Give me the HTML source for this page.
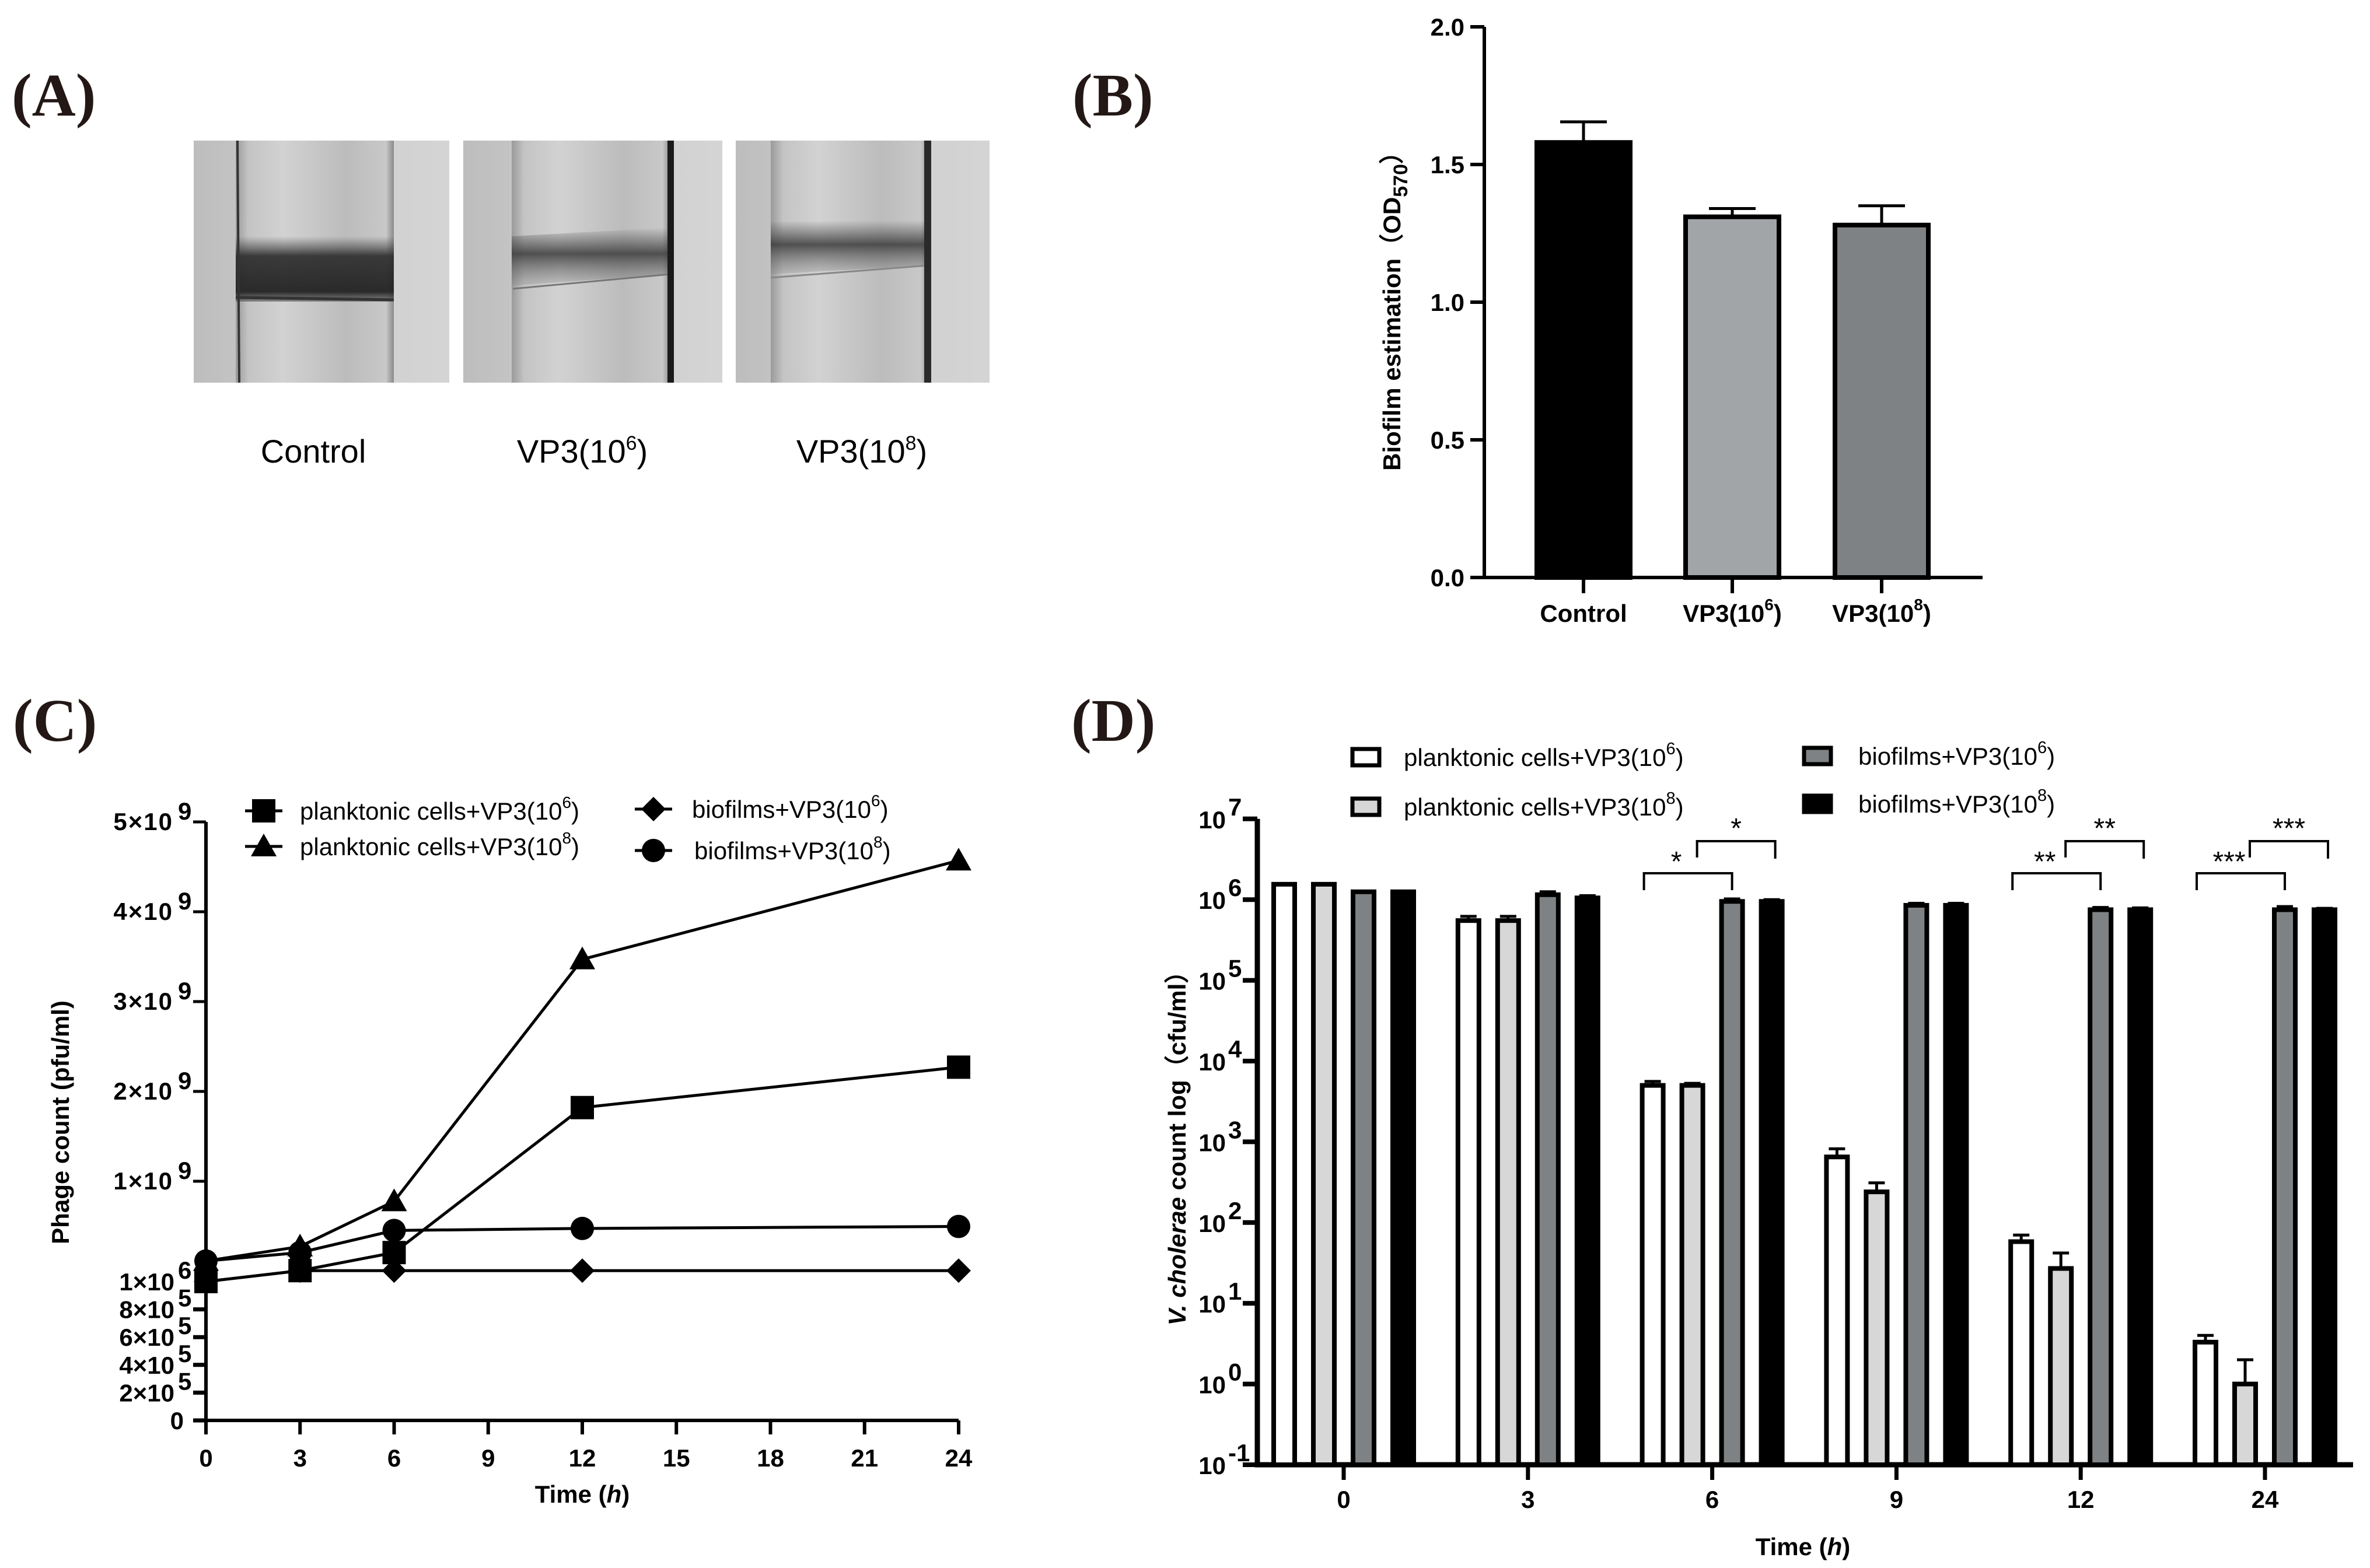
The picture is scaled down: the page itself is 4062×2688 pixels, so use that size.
<!DOCTYPE html>
<html><head><meta charset="utf-8"><style>
html,body{margin:0;padding:0;background:#fff;}
svg{display:block;}
text{font-family:"Liberation Sans",sans-serif;}
.lbl{font-family:"Liberation Serif",serif;font-weight:bold;font-size:104px;fill:#231815;}
.tk{font-weight:bold;font-size:42px;fill:#000;}
.lg{font-size:42px;fill:#000;}
</style></head><body>
<svg id="fig" width="4062" height="2688" viewBox="0 0 4062 2688" xmlns="http://www.w3.org/2000/svg">
<defs>
<linearGradient id="bg1" x1="0" x2="1"><stop offset="0" stop-color="#bdbdbd"/><stop offset="0.5" stop-color="#cfcfcf"/><stop offset="1" stop-color="#d4d4d4"/></linearGradient>
<linearGradient id="tube" x1="0" x2="1"><stop offset="0" stop-color="#9a9a9a"/><stop offset="0.08" stop-color="#c4c4c4"/><stop offset="0.3" stop-color="#d2d2d2"/><stop offset="0.7" stop-color="#bcbcbc"/><stop offset="0.95" stop-color="#c8c8c8"/><stop offset="1" stop-color="#8a8a8a"/></linearGradient>
<linearGradient id="band1" x1="0" x2="0" y1="0" y2="1"><stop offset="0" stop-color="#444" stop-opacity="0"/><stop offset="0.3" stop-color="#2a2a2a" stop-opacity="0.9"/><stop offset="0.85" stop-color="#222" stop-opacity="0.95"/><stop offset="1" stop-color="#555" stop-opacity="0.6"/></linearGradient>
<linearGradient id="band2" x1="0" x2="0" y1="0" y2="1"><stop offset="0" stop-color="#444" stop-opacity="0"/><stop offset="0.45" stop-color="#3a3a3a" stop-opacity="0.85"/><stop offset="1" stop-color="#777" stop-opacity="0.2"/></linearGradient>
</defs>

<!-- Panel A -->
<text class="lbl" x="20" y="198">(A)</text>
<g>
<rect x="332" y="241" width="438" height="415" fill="url(#bg1)"/>
<rect x="404" y="241" width="271" height="415" fill="url(#tube)"/>
<rect x="404" y="405" width="271" height="112" fill="url(#band1)"/>
<line x1="404" y1="510" x2="675" y2="514" stroke="#333" stroke-width="5"/>
<line x1="407" y1="241" x2="410" y2="656" stroke="#333" stroke-width="4"/>
</g>
<g>
<rect x="794" y="241" width="444" height="415" fill="url(#bg1)"/>
<rect x="877" y="241" width="272" height="415" fill="url(#tube)"/>
<polygon points="877,405 1149,390 1149,470 877,490" fill="url(#band2)"/>
<line x1="879" y1="495" x2="1149" y2="470" stroke="#777" stroke-width="3"/>
<rect x="1144" y="241" width="11" height="415" fill="#1a1a1a"/>
</g>
<g>
<rect x="1261" y="241" width="435" height="415" fill="url(#bg1)"/>
<rect x="1321" y="241" width="271" height="415" fill="url(#tube)"/>
<polygon points="1321,380 1592,378 1592,455 1321,470" fill="url(#band2)"/>
<line x1="1321" y1="476" x2="1592" y2="455" stroke="#888" stroke-width="3"/>
<rect x="1584" y="241" width="12" height="415" fill="#2a2a2a"/>
</g>
<text x="537" y="793" font-size="56" text-anchor="middle">Control</text>
<text x="998" y="793" font-size="56" text-anchor="middle">VP3(10<tspan font-size="34" dy="-22">6</tspan><tspan dy="22">)</tspan></text>
<text x="1477" y="793" font-size="56" text-anchor="middle">VP3(10<tspan font-size="34" dy="-22">8</tspan><tspan dy="22">)</tspan></text>

<!-- Panel labels -->
<text class="lbl" x="1838" y="198">(B)</text>
<text class="lbl" x="22" y="1270">(C)</text>
<text class="lbl" x="1836" y="1270">(D)</text>

<g id="chartB"></g>
<g id="chartC"></g>
<g id="chartD"></g>
</svg>
<script>
const NS="http://www.w3.org/2000/svg";
function mk(p,tag,at,txt){const e=document.createElementNS(NS,tag);for(const k in at)e.setAttribute(k,at[k]);if(txt!==undefined)e.textContent=txt;p.appendChild(e);return e;}

// ---------- Chart B data ----------
const bCategories=["Control","VP3(10","VP3(10"];
const bSup=["","6","8"];
const bValues=[1.58,1.31,1.28];
const bErrors=[0.075,0.03,0.07];
const bTicks=[0,0.5,1.0,1.5,2.0];
const bTickLabels=["0.0","0.5","1.0","1.5","2.0"];

// ---------- Chart C data ----------
const cTimes=[0,3,6,12,24];
const cPlank6=[1e6,1.1e8,2.9e8,1.82e9,2.27e9];
const cPlank8=[2.06e8,3.5e8,8.0e8,3.47e9,4.57e9];
const cBio6=[1e6,1.1e8,1.1e8,1.1e8,1.1e8];
const cBio8=[2.06e8,2.9e8,5.1e8,5.3e8,5.5e8];
const cXTicks=[0,3,6,9,12,15,18,21,24];
const cLowTicks=[0,2e5,4e5,6e5,8e5,1e6];
const cLowLabels=["0","2×10","4×10","6×10","8×10","1×10"];
const cLowExp=["","5","5","5","5","6"];
const cHighTicks=[1e9,2e9,3e9,4e9,5e9];
const cHighLabels=["1×10","2×10","3×10","4×10","5×10"];

// ---------- Chart D data ----------
const dGroups=["0","3","6","9","12","24"];
const dPlank6=[1.55e6,5.5e5,5e3,650,58,3.3];
const dPlank8=[1.55e6,5.5e5,5e3,240,27,1.0];
const dBio6=[1.25e6,1.15e6,9.5e5,8.5e5,7.5e5,7.5e5];
const dBio8=[1.25e6,1.05e6,9.5e5,8.5e5,7.5e5,7.5e5];
const dErrPlank6=[0,6.2e5,5.6e3,820,70,4.0];
const dErrPlank8=[0,6.2e5,5.3e3,310,42,2.0];
const dErrBio6=[0,1.25e6,1.02e6,9.0e5,8.0e5,8.2e5];
const dErrBio8=[0,1.12e6,1.0e6,9.0e5,7.9e5,7.8e5];
const dExps=[-1,0,1,2,3,4,5,6,7];
const dSig=[["",""],["",""],["*","*"],["",""],["**","**"],["***","***"]];

// ===== Draw B =====
(function(){
const g=document.getElementById('chartB');
const X0=2544,Y0=990,XE=3398,K=472;
const y=v=>Y0-v*K;
const cx=[2714,2969,3225];
const fills=["#000","#a2a5a8","#7f8284"];
const ax=mk(g,'path',{d:`M${X0},${y(2)} V${Y0} H${XE}`,stroke:"#000","stroke-width":6,fill:"none"});


bTicks.forEach((t,i)=>{
 const l=mk(g,'line',{x1:X0-24,x2:X0,y1:y(t),y2:y(t),stroke:"#000","stroke-width":6});
 
 
 const tx=mk(g,'text',{x:X0-34,y:y(t)+15,"text-anchor":"end",class:"tk"},bTickLabels[i]);
 
 
});
bValues.forEach((v,i)=>{
 const w=160;
 const eb=mk(g,'path',{d:`M${cx[i]},${y(v)} V${y(v+bErrors[i])} M${cx[i]-40},${y(v+bErrors[i])} H${cx[i]+40}`,stroke:"#000","stroke-width":5,fill:"none"});
 
 
 const r=mk(g,'rect',{x:cx[i]-w/2,y:y(v),width:w,height:Y0-y(v),fill:fills[i],stroke:"#000","stroke-width":8});
 
 
 const t=mk(g,'line',{x1:cx[i],x2:cx[i],y1:Y0,y2:Y0+27,stroke:"#000","stroke-width":6});
 
 
 const tx=mk(g,'text',{x:cx[i],y:1066,"text-anchor":"middle",class:"tk"},bCategories[i]);
 if(bSup[i]){mk(tx,'tspan',{"font-size":28,dy:-20},bSup[i]);mk(tx,'tspan',{dy:20},")");}
 
 
});
const tt=mk(g,'text',{x:0,y:0,transform:"translate(2400,523) rotate(-90)","text-anchor":"middle",class:"tk","font-size":48},"Biofilm estimation（OD");
mk(tt,'tspan',{"font-size":34,dy:12},"570");mk(tt,'tspan',{dy:-12},"）");


})();

// ===== Draw C =====
(function(){
const g=document.getElementById('chartC');
const X0=353,Y0=2435,XE=1643;
const x=t=>X0+t*(XE-X0)/24;
const y=v=>{ if(v<=1e6) return Y0-v/1e6*238; if(v<1e9) return 2197-(v-1e6)/(999e6)*172; return 2025-(v-1e9)/1e9*154;};
const ax=mk(g,'path',{d:`M${X0},${y(5e9)} V${Y0} H${XE}`,stroke:"#000","stroke-width":6,fill:"none"});


cLowTicks.forEach((t,i)=>{
 if(t!==1e6){const l=mk(g,'line',{x1:X0-22,x2:X0,y1:y(t),y2:y(t),stroke:"#000","stroke-width":7});
 
 }
 const tx=mk(g,'text',{x:cLowExp[i]?X0-54:X0-38,y:y(t)+15,"text-anchor":"end",class:"tk","font-size":42},cLowLabels[i]);
 
 
 if(cLowExp[i]){const s=mk(g,'text',{x:X0-48,y:y(t)-5,class:"tk","font-size":28},cLowExp[i]);
 
 }
});
cHighTicks.forEach((t,i)=>{
 const l=mk(g,'line',{x1:X0-22,x2:X0,y1:y(t),y2:y(t),stroke:"#000","stroke-width":5});
 
 
 const tx=mk(g,'text',{x:X0-56,y:y(t)+14,"text-anchor":"end",class:"tk","font-size":38,"letter-spacing":"2"},cHighLabels[i]);
 
 
 const s=mk(g,'text',{x:X0-48,y:y(t)-4,class:"tk","font-size":28},"9");
 
 
});
cXTicks.forEach(t=>{
 const l=mk(g,'line',{x1:x(t),x2:x(t),y1:Y0,y2:Y0+24,stroke:"#000","stroke-width":6});
 
 
 const tx=mk(g,'text',{x:x(t),y:2514,"text-anchor":"middle",class:"tk","font-size":40},String(t));
 
 
});
const xt=mk(g,'text',{x:998,y:2576,"text-anchor":"middle",class:"tk","font-size":44},"Time (");
mk(xt,'tspan',{"font-style":"italic"},"h");mk(xt,'tspan',{},")");


const yt=mk(g,'text',{x:0,y:0,transform:"translate(118,1924) rotate(-90)","text-anchor":"middle",class:"tk","font-size":44},"Phage count (pfu/ml)");


function marker(p,type,cx,cy){
 if(type==='sq') return mk(p,'rect',{x:cx-20,y:cy-20,width:40,height:40,fill:"#000"});
 if(type==='tri') return mk(p,'polygon',{points:`${cx},${cy-22} ${cx+22},${cy+17} ${cx-22},${cy+17}`,fill:"#000"});
 if(type==='dia') return mk(p,'polygon',{points:`${cx},${cy-21} ${cx+21},${cy} ${cx},${cy+21} ${cx-21},${cy}`,fill:"#000"});
 return mk(p,'circle',{cx:cx,cy:cy,r:20,fill:"#000"});
}
const series=[[cBio6,'dia'],[cBio8,'cir'],[cPlank6,'sq'],[cPlank8,'tri']];
const names=['c-series-biofilms-1e6','c-series-biofilms-1e8','c-series-planktonic-1e6','c-series-planktonic-1e8'];
series.forEach(([vals,type],si)=>{
 const sg=mk(g,'g',{});
 
 
 const pl=mk(sg,'polyline',{points:vals.map((v,i)=>x(cTimes[i])+','+y(v)).join(' '),fill:"none",stroke:"#000","stroke-width":5});
 
 
 vals.forEach((v,i)=>{const m=marker(sg,type,x(cTimes[i]),y(v));
 
 });
});
const legend=[[426,1390,'sq','planktonic cells+VP3(10','6',514],[426,1451,'tri','planktonic cells+VP3(10','8',514],[1094,1387,'dia','biofilms+VP3(10','6',1186],[1094,1458,'cir','biofilms+VP3(10','8',1190]];
legend.forEach(([lx,ly,type,txt,sup,tx0])=>{
 const lg=mk(g,'g',{});
 
 
 mk(lg,'line',{x1:lx-6,x2:lx+58,y1:ly,y2:ly,stroke:"#000","stroke-width":5});
 marker(lg,type,lx+26,ly);
 const t=mk(lg,'text',{x:tx0,y:ly+15,class:"lg"},txt);
 mk(t,'tspan',{"font-size":28,dy:-20},sup);mk(t,'tspan',{dy:20},")");
});
})();

// ===== Draw D =====
(function(){
const g=document.getElementById('chartD');
const X0=2155,Y0=2511,XE=4033,DEC=138.4;
const y=v=>Y0-(Math.log10(v)+1)*DEC;
const gx=i=>2303+i*315.8;
const offs=[-102,-34,34,102];
const fills=["#fff","#d7d7d7","#7f8284","#000"];
const ax=mk(g,'path',{d:`M${X0},${y(1e7)} V${Y0} H${XE}`,stroke:"#000","stroke-width":9,fill:"none"});


dExps.forEach(e=>{
 const yy=Y0-(e+1)*DEC;
 const l=mk(g,'line',{x1:X0-25,x2:X0,y1:yy,y2:yy,stroke:"#000","stroke-width":8});
 
 
 const t=mk(g,'text',{x:X0-54,y:yy+16,"text-anchor":"end",class:"tk","font-size":44},"10");
 
 
 const s=mk(g,'text',{x:X0-50,y:yy-6,class:"tk","font-size":28},String(e));
 
 
});
const allV=[dPlank6,dPlank8,dBio6,dBio8];
const allE=[dErrPlank6,dErrPlank8,dErrBio6,dErrBio8];
dGroups.forEach((lab,gi)=>{
 const c=gx(gi);
 const l=mk(g,'line',{x1:c,x2:c,y1:Y0,y2:Y0+26,stroke:"#000","stroke-width":7});
 
 
 const t=mk(g,'text',{x:c,y:2585,"text-anchor":"middle",class:"tk","font-size":44},lab);
 
 
 allV.forEach((vals,si)=>{
  const bx=c+offs[si],v=vals[gi],e=allE[si][gi];
  if(e>v){const eb=mk(g,'path',{d:`M${bx},${y(v)} V${y(e)} M${bx-14},${y(e)} H${bx+14}`,stroke:"#000","stroke-width":5,fill:"none"});
  
  }
  const r=mk(g,'rect',{x:bx-18,y:y(v),width:36,height:Y0-y(v),fill:fills[si],stroke:"#000","stroke-width":8});
  
  
 });
 const sig=dSig[gi];
 if(sig[0]){
  const a=c+offs[0]-15,b=c+offs[2],ya=1497;
  const br=mk(g,'path',{d:`M${a},1526 V${ya} H${b} V1526`,stroke:"#000","stroke-width":4,fill:"none"});
  
  
  const s=mk(g,'text',{x:(a+b)/2-20,y:ya-4,"text-anchor":"middle","font-size":48},sig[0]);
  
  
  const a2=c+offs[1]+8,b2=c+offs[3]+6,yb=1442;
  const br2=mk(g,'path',{d:`M${a2},1470 V${yb} H${b2} V1472`,stroke:"#000","stroke-width":4,fill:"none"});
  
  
  const s2=mk(g,'text',{x:(a2+b2)/2,y:yb-6,"text-anchor":"middle","font-size":48},sig[1]);
  
  
 }
});
const xt=mk(g,'text',{x:3090,y:2666,"text-anchor":"middle",class:"tk","font-size":46},"Time (");
mk(xt,'tspan',{"font-style":"italic"},"h");mk(xt,'tspan',{},")");


const yt=mk(g,'text',{x:0,y:0,transform:"translate(2032,1958) rotate(-90)","text-anchor":"middle",class:"tk","font-size":48});
mk(yt,'tspan',{"font-style":"italic"},"V. cholerae");mk(yt,'tspan',{}," count log（cfu/ml）");


const leg=[[2318,1298,0,'planktonic cells+VP3(10','6',2406],[2318,1383,1,'planktonic cells+VP3(10','8',2406],[3092,1296,2,'biofilms+VP3(10','6',3185],[3092,1378,3,'biofilms+VP3(10','8',3185]];
leg.forEach(([lx,ly,si,txt,sup,tx0])=>{
 const lg=mk(g,'g',{});
 
 
 mk(lg,'rect',{x:lx,y:ly-14,width:46,height:28,fill:fills[si],stroke:"#000","stroke-width":7});
 const t=mk(lg,'text',{x:tx0,y:ly+15,class:"lg","font-size":44},txt);
 mk(t,'tspan',{"font-size":29,dy:-20},sup);mk(t,'tspan',{dy:20},")");
});
})();
</script>
</body></html>
